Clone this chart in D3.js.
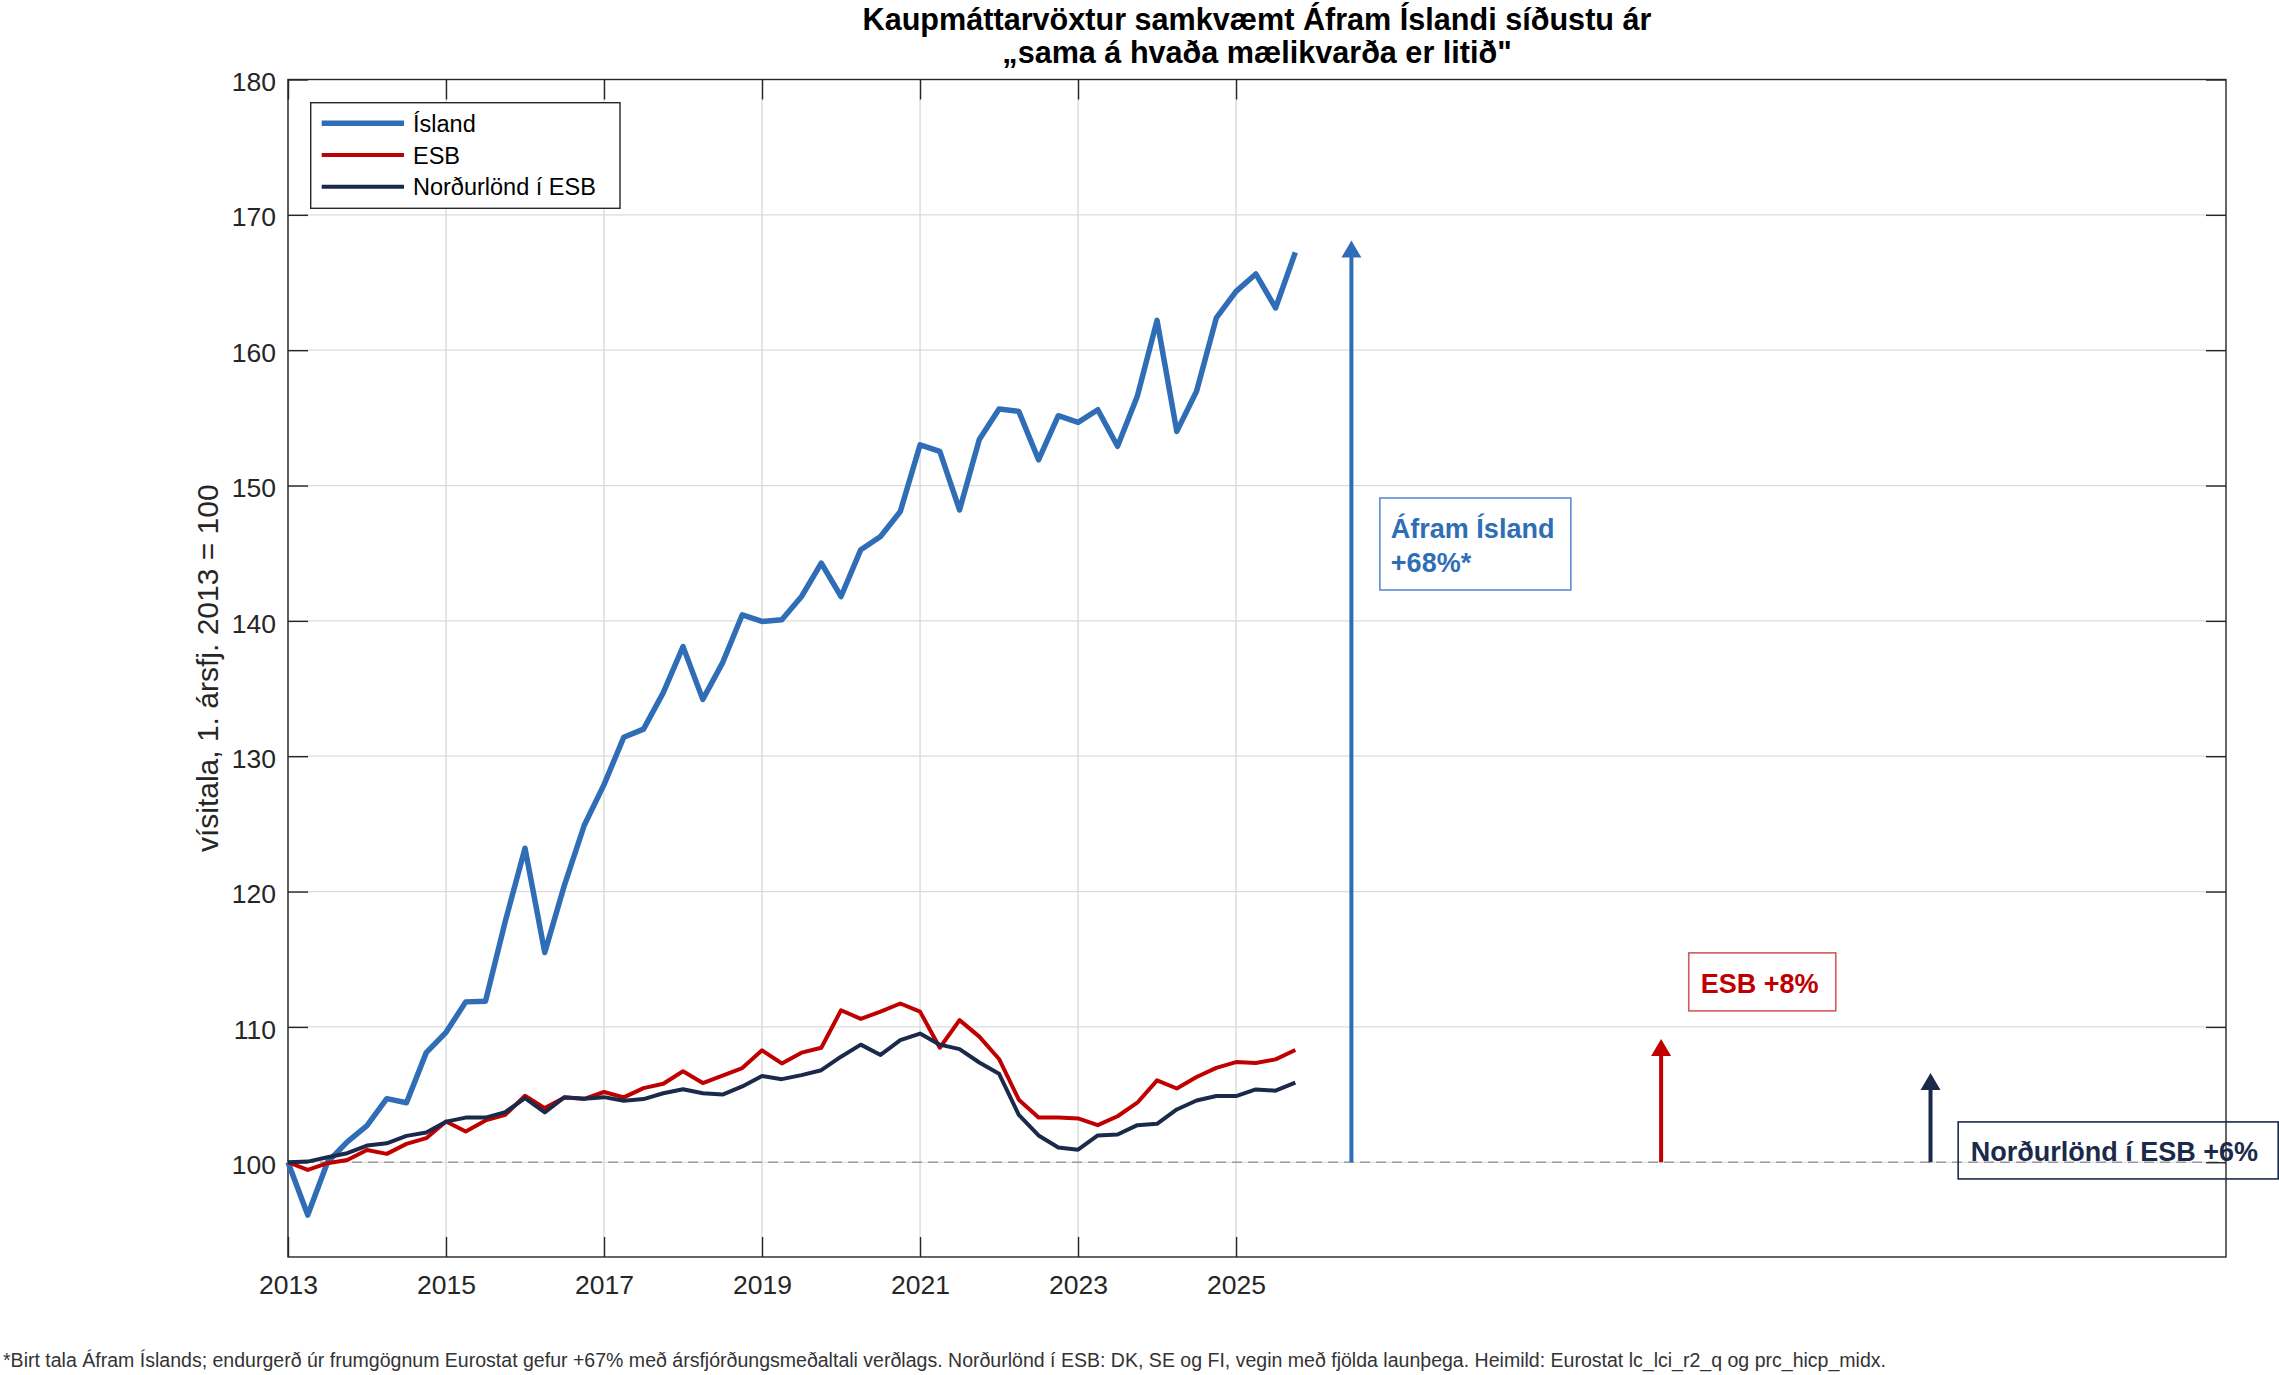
<!DOCTYPE html>
<html>
<head>
<meta charset="utf-8">
<script src="https://cdn.jsdelivr.net/npm/d3@7"></script>
<style>
  html, body { margin: 0; padding: 0; background: #fff; }
  svg { display: block; font-family: "Liberation Sans", Arial, Helvetica, sans-serif; }
</style>
</head>
<body>
<svg id="chart" width="2279" height="1375"></svg>
<script>
// ---------------- DATA ----------------
const quarters = [
  "2013Q1","2013Q2","2013Q3","2013Q4","2014Q1","2014Q2","2014Q3","2014Q4",
  "2015Q1","2015Q2","2015Q3","2015Q4","2016Q1","2016Q2","2016Q3","2016Q4",
  "2017Q1","2017Q2","2017Q3","2017Q4","2018Q1","2018Q2","2018Q3","2018Q4",
  "2019Q1","2019Q2","2019Q3","2019Q4","2020Q1","2020Q2","2020Q3","2020Q4",
  "2021Q1","2021Q2","2021Q3","2021Q4","2022Q1","2022Q2","2022Q3","2022Q4",
  "2023Q1","2023Q2","2023Q3","2023Q4","2024Q1","2024Q2","2024Q3","2024Q4",
  "2025Q1","2025Q2","2025Q3","2025Q4"
];
const island = [
  100.0, 96.1, 100.0, 101.5,
  102.7, 104.7, 104.4, 108.1,
  109.6, 111.85, 111.9, 117.8,
  123.2, 115.5, 120.5, 124.9,
  127.9, 131.4, 132.0, 134.7,
  138.1, 134.2, 136.9, 140.45,
  139.96, 140.08, 141.8, 144.27,
  141.8, 145.26, 146.24, 148.08,
  153.0, 152.52, 148.2, 153.4,
  155.65, 155.48, 151.9, 155.16,
  154.67, 155.6, 152.9, 156.6,
  162.2, 154.0, 156.96, 162.38,
  164.35, 165.63, 163.12, 167.23
];
const esb = [
  100.0, 99.43, 99.93, 100.17,
  100.91, 100.62, 101.36, 101.78,
  103.01, 102.27, 103.09, 103.5,
  104.91, 104.0, 104.79, 104.69,
  105.19, 104.79, 105.48, 105.8,
  106.72, 105.85, 106.4, 106.96,
  108.27, 107.3, 108.1, 108.46,
  111.23, 110.6, 111.13, 111.73,
  111.13, 108.46, 110.5, 109.28,
  107.63, 104.62, 103.3, 103.3,
  103.24, 102.74, 103.4, 104.4,
  106.05, 105.45, 106.3, 106.97,
  107.4, 107.33, 107.6, 108.29
];
const nordic = [
  100.0, 100.05, 100.37, 100.67,
  101.23, 101.4, 101.95, 102.2,
  103.0, 103.3, 103.3, 103.7,
  104.74, 103.68, 104.81, 104.69,
  104.81, 104.54, 104.67, 105.1,
  105.4, 105.1, 105.0, 105.6,
  106.38, 106.14, 106.44, 106.8,
  107.8, 108.69, 107.93, 109.02,
  109.51, 108.69, 108.36, 107.37,
  106.54, 103.5, 101.98, 101.09,
  100.93, 101.98, 102.05, 102.74,
  102.84, 103.9, 104.56, 104.89,
  104.89, 105.38, 105.29, 105.88
];
const seriesNames = ["Ísland", "ESB", "Norðurlönd í ESB"];
const xTicks = [2013, 2015, 2017, 2019, 2021, 2023, 2025];
const yTicks = [100, 110, 120, 130, 140, 150, 160, 170, 180];
const baseline = 100;
// arrows: x position (year) and top value
const arrowX = [2026.46, 2030.38, 2033.79];
const arrowTop = [168.1, 109.1, 106.6];
const labelLines = [["Áfram Ísland", "+68%*"], ["ESB +8%"], ["Norðurlönd í ESB +6%"]];
const labelAnchorX = [2026.82, 2030.73, 2034.14];
const labelAnchorY = [149.08, 115.47, 102.98];

const titleLines = ["Kaupmáttarvöxtur samkvæmt Áfram Íslandi síðustu ár", "„sama á hvaða mælikvarða er litið\""];
const yLabel = "vísitala, 1. ársfj. 2013 = 100";
const footnote = "*Birt tala Áfram Íslands; endurgerð úr frumgögnum Eurostat gefur +67% með ársfjórðungsmeðaltali verðlags. Norðurlönd í ESB: DK, SE og FI, vegin með fjölda launþega. Heimild: Eurostat lc_lci_r2_q og prc_hicp_midx.";

// ---------------- STYLE / LAYOUT ----------------
const colors = ["#2f6eb6", "#c00000", "#1b2a4b"];
const boxStroke = ["#5a8fd0", "#d65a5a", "#1b2a4b"];
const lineWidths = [5.5, 4, 4];
const fontFamily = '"Liberation Sans", Arial, Helvetica, sans-serif';
const axisColor = "#262626";

const svg = d3.select("#chart");
svg.append("rect").attr("width", 2279).attr("height", 1375).attr("fill", "#fff");

const x = d3.scaleLinear().domain([2013, 2037.53]).range([288, 2226]);
const y = d3.scaleLinear().domain([93, 180]).range([1257, 79.5]);
const qx = q => +q.slice(0, 4) + (+q.slice(5) - 1) / 4;

// gridlines
const grid = svg.append("g");
grid.selectAll("line.gy").data(yTicks).enter().append("line")
  .attr("x1", x.range()[0]).attr("x2", x.range()[1])
  .attr("y1", d => y(d)).attr("y2", d => y(d))
  .attr("stroke", "#dcdcdc").attr("stroke-width", 1.2);
grid.selectAll("line.gx").data(xTicks).enter().append("line")
  .attr("x1", d => x(d)).attr("x2", d => x(d))
  .attr("y1", y.range()[0]).attr("y2", y.range()[1])
  .attr("stroke", "#d4d4d4").attr("stroke-width", 1.2);

// dashed baseline
svg.append("line")
  .attr("x1", x.range()[0]).attr("x2", x.range()[1])
  .attr("y1", y(baseline)).attr("y2", y(baseline))
  .attr("stroke", "#9a9a9a").attr("stroke-width", 1.6)
  .attr("stroke-dasharray", "10,6");

// axes
function styleAxis(g, showLabels) {
  g.select(".domain").remove();
  g.selectAll(".tick line").attr("stroke", axisColor).attr("stroke-width", 1.4);
  g.selectAll(".tick text").attr("fill", axisColor)
    .style("font-family", fontFamily).style("font-size", "26.5px");
  if (!showLabels) g.selectAll(".tick text").remove();
}
const gx = svg.append("g").attr("transform", `translate(0,${y.range()[0]})`)
  .call(d3.axisBottom(x).tickValues(xTicks).tickFormat(d3.format("d"))
    .tickSizeInner(-20).tickSizeOuter(0).tickPadding(18));
styleAxis(gx, true);
const gxt = svg.append("g").attr("transform", `translate(0,${y.range()[1]})`)
  .call(d3.axisTop(x).tickValues(xTicks).tickSizeInner(-20).tickSizeOuter(0));
styleAxis(gxt, false);
const gy = svg.append("g").attr("transform", `translate(${x.range()[0]},0)`)
  .call(d3.axisLeft(y).tickValues(yTicks).tickFormat(d3.format("d"))
    .tickSizeInner(-20).tickSizeOuter(0).tickPadding(12));
styleAxis(gy, true);
gy.selectAll(".tick text").attr("dy", "0.42em");
const gyr = svg.append("g").attr("transform", `translate(${x.range()[1]},0)`)
  .call(d3.axisRight(y).tickValues(yTicks).tickSizeInner(-20).tickSizeOuter(0));
styleAxis(gyr, false);

// axes box
svg.append("rect")
  .attr("x", x.range()[0]).attr("y", y.range()[1])
  .attr("width", x.range()[1] - x.range()[0]).attr("height", y.range()[0] - y.range()[1])
  .attr("fill", "none").attr("stroke", axisColor).attr("stroke-width", 1.4);

// series
const allSeries = [island, esb, nordic];
const line = d3.line().x(d => x(d[0])).y(d => y(d[1]));
allSeries.forEach((vals, i) => {
  const pts = quarters.map((q, j) => [qx(q), vals[j]]);
  svg.append("path").datum(pts)
    .attr("d", line)
    .attr("fill", "none")
    .attr("stroke", colors[i])
    .attr("stroke-width", lineWidths[i])
    .attr("stroke-linejoin", "round")
    .attr("stroke-linecap", "butt");
});

// arrows
const headW = 20, headH = 17;
arrowX.forEach((ax, i) => {
  const px = x(ax), py0 = y(baseline), py1 = y(arrowTop[i]);
  svg.append("line")
    .attr("x1", px).attr("x2", px).attr("y1", py0).attr("y2", py1 + headH - 1)
    .attr("stroke", colors[i]).attr("stroke-width", 4);
  svg.append("path")
    .attr("d", `M${px},${py1} L${px - headW / 2},${py1 + headH} L${px + headW / 2},${py1 + headH} Z`)
    .attr("fill", colors[i]);
});

// annotation boxes
const boxW = [191, 147, 320];
const boxH = [92, 58, 57];
const textPadX = [11, 12, 12.5];
const textBase = [[40, 74.5], [40], [39]];
labelLines.forEach((lines, i) => {
  const bx = x(labelAnchorX[i]), by = y(labelAnchorY[i]);
  svg.append("rect")
    .attr("x", bx).attr("y", by).attr("width", boxW[i]).attr("height", boxH[i])
    .attr("fill", "none").attr("stroke", boxStroke[i]).attr("stroke-width", 1.6);
  lines.forEach((t, k) => {
    svg.append("text")
      .attr("x", bx + textPadX[i]).attr("y", by + textBase[i][k])
      .attr("fill", colors[i])
      .style("font-family", fontFamily).style("font-size", "27px").style("font-weight", "bold")
      .text(t);
  });
});

// legend
const lg = svg.append("g");
lg.append("rect").attr("x", 310.7).attr("y", 102.7).attr("width", 309.3).attr("height", 105.6)
  .attr("fill", "#fff").attr("stroke", axisColor).attr("stroke-width", 1.4);
seriesNames.forEach((name, i) => {
  const ry = 123.3 + i * 31.7;
  lg.append("line").attr("x1", 321.7).attr("x2", 404).attr("y1", ry).attr("y2", ry)
    .attr("stroke", colors[i]).attr("stroke-width", lineWidths[i]);
  lg.append("text").attr("x", 413).attr("y", ry + 8.6)
    .attr("fill", "#000")
    .style("font-family", fontFamily).style("font-size", "23.5px")
    .text(name);
});

// title
titleLines.forEach((t, k) => {
  svg.append("text")
    .attr("x", (x.range()[0] + x.range()[1]) / 2).attr("y", 30 + k * 32.5)
    .attr("text-anchor", "middle")
    .attr("fill", "#000")
    .style("font-family", fontFamily).style("font-size", "30.6px").style("font-weight", "bold")
    .text(t);
});

// y label
svg.append("text")
  .attr("transform", `translate(218,${(y.range()[0] + y.range()[1]) / 2}) rotate(-90)`)
  .attr("text-anchor", "middle")
  .attr("fill", axisColor)
  .style("font-family", fontFamily).style("font-size", "30px")
  .text(yLabel);

// footnote
svg.append("text")
  .attr("x", 3).attr("y", 1367)
  .attr("fill", "#333")
  .style("font-family", fontFamily).style("font-size", "19.55px")
  .text(footnote);
</script>
</body>
</html>
